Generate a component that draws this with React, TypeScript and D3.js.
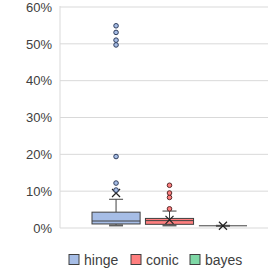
import React from "react";
import * as d3 from "d3";

const series = ["hinge", "conic", "bayes"];
const fills = ["#a6bde6", "#ff7f7f", "#7fd8a6"];
const strokes = ["#2f3d5c", "#5a2a2a", "#2e5a40"];
const whiskerLow = [0.7, 0.7, 0.6];
const q1 = [1.1, 1.0, 0.6];
const median = [1.9, 2.0, 0.6];
const q3 = [4.3, 2.6, 0.6];
const whiskerHigh = [7.8, 4.6, 0.6];
const means = [9.5, 2.2, 0.6];
const outliers = [
  [10.3, 12.2, 19.4, 49.7, 51.0, 53.1, 54.9],
  [5.2, 8.3, 9.5, 11.6],
  [],
];
const yTicks = [0, 10, 20, 30, 40, 50, 60];

const W = 269,
  H = 274;
const plotLeft = 60,
  plotRight = 268;

const y = d3.scaleLinear().domain([0, 60]).range([228, 7]);
const x = d3.scaleBand<string>().domain(series).range([92, 247]).paddingInner(0.1);

const font = "Liberation Sans, Arial, sans-serif";

export default function App() {
  const bw = x.bandwidth();
  return (
    <svg
      width={W}
      height={H}
      style={{ position: "absolute", left: 0, top: 0, background: "#fff" }}
    >
      {yTicks.map((t) => (
        <g key={t}>
          <line x1={plotLeft} x2={plotRight} y1={y(t)} y2={y(t)} stroke="#d9d9d9" strokeWidth={1} />
          <text
            x={52}
            y={y(t)}
            dy="0.36em"
            textAnchor="end"
            fontFamily={font}
            fontSize={13}
            fill="#404040"
          >
            {t}%
          </text>
        </g>
      ))}
      <line x1={plotLeft} x2={plotLeft} y1={y(60) - 1} y2={y(0)} stroke="#d9d9d9" />

      {series.map((s, i) => {
        const x0 = x(s)!;
        const cx = x0 + bw / 2;
        const capW = 14;
        return (
          <g key={s}>
            {/* whiskers */}
            <line x1={cx} x2={cx} y1={y(whiskerHigh[i])} y2={y(q3[i])} stroke="#404040" />
            <line x1={cx} x2={cx} y1={y(q1[i])} y2={y(whiskerLow[i])} stroke="#404040" />
            <line
              x1={cx - capW / 2}
              x2={cx + capW / 2}
              y1={y(whiskerHigh[i])}
              y2={y(whiskerHigh[i])}
              stroke="#404040"
            />
            <line
              x1={cx - capW / 2}
              x2={cx + capW / 2}
              y1={y(whiskerLow[i])}
              y2={y(whiskerLow[i])}
              stroke="#606060"
              strokeWidth={2}
            />
            {/* box */}
            <rect
              x={x0}
              y={y(q3[i])}
              width={bw}
              height={Math.max(y(q1[i]) - y(q3[i]), 0)}
              fill={fills[i]}
              stroke="#404040"
              strokeWidth={1}
            />
            <line x1={x0} x2={x0 + bw} y1={y(median[i])} y2={y(median[i])} stroke="#404040" />
            {/* mean */}
            <path
              d={`M${cx - 4},${y(means[i]) - 4}L${cx + 4},${y(means[i]) + 4}M${cx - 4},${y(means[i]) + 4}L${cx + 4},${y(means[i]) - 4}`}
              stroke="#222"
              strokeWidth={1.2}
            />
            {outliers[i].map((v, j) => (
              <circle
                key={j}
                cx={cx}
                cy={y(v)}
                r={2.3}
                fill={fills[i]}
                stroke={strokes[i]}
                strokeWidth={1}
              />
            ))}
          </g>
        );
      })}

      {/* legend */}
      {series.map((s, i) => {
        const lx = [69, 131, 190][i];
        return (
          <g key={s}>
            <rect x={lx} y={254.5} width={10} height={10} fill={fills[i]} stroke="#404040" />
            <text x={lx + 15} y={260} dy="0.36em" fontFamily={font} fontSize={14} fill="#404040">
              {s}
            </text>
          </g>
        );
      })}
    </svg>
  );
}
